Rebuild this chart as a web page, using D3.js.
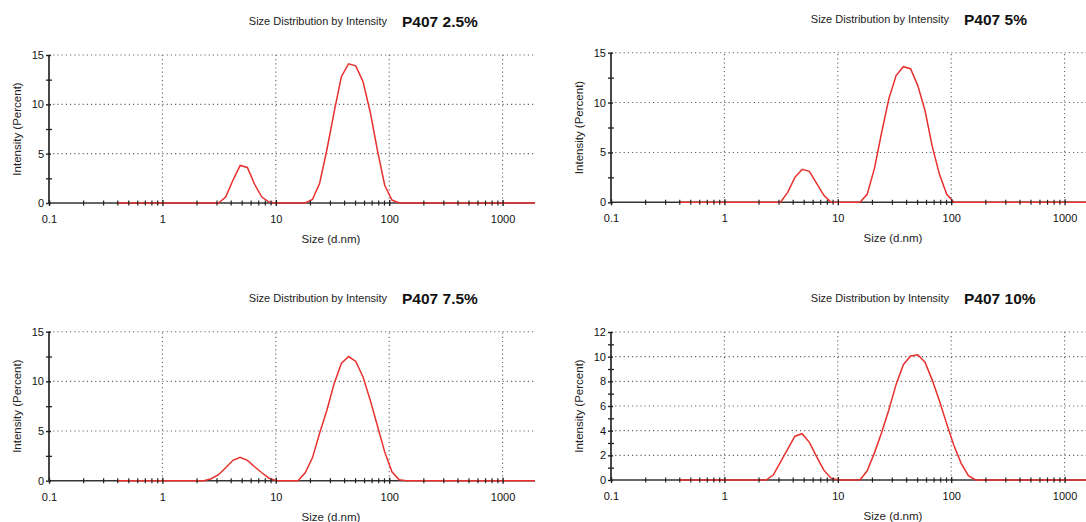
<!DOCTYPE html>
<html>
<head>
<meta charset="utf-8">
<script src="https://cdn.jsdelivr.net/npm/d3@7/dist/d3.min.js"></script>
<style>
  body { margin: 0; background: #fff; }
  svg { display: block; font-family: "Liberation Sans", Arial, sans-serif; }
</style>
</head>
<body>
<svg id="chart" width="1086" height="522"></svg>
<script>
// size classes (d.nm) of the instrument
const sizeBins = [0.4, 0.4632, 0.5365, 0.6213, 0.7195, 0.8332, 0.9649, 1.117, 1.294, 1.499,
  1.736, 2.010, 2.328, 2.696, 3.122, 3.615, 4.187, 4.849, 5.615, 6.503,
  7.531, 8.721, 10.10, 11.70, 13.54, 15.69, 18.17, 21.04, 24.36, 28.21,
  32.67, 37.84, 43.82, 50.75, 58.77, 68.06, 78.82, 91.28, 105.7, 122.4,
  141.8, 164.2, 190.1, 220.2, 255.0, 295.3, 342.0, 396.1, 458.7, 531.2,
  615.1, 712.4, 825.0, 955.4, 1106, 1281, 1484, 1718, 1990, 2305,
  2669, 3091, 3580, 4145, 4801, 5560, 6439, 7456, 8635, 10000];

// intensity (percent) for each sample
const intensityP25 = [0, 0, 0, 0, 0, 0, 0, 0, 0, 0,
  0, 0, 0, 0, 0, 0.6, 2.3, 3.8, 3.6, 1.9,
  0.6, 0.1, 0, 0, 0, 0, 0, 0.35, 2.0, 5.4,
  9.2, 12.8, 14.1, 13.9, 12.3, 9.2, 5.3, 1.8, 0.3, 0,
  0, 0, 0, 0, 0, 0, 0, 0, 0, 0,
  0, 0, 0, 0, 0, 0, 0, 0, 0, 0,
  0, 0, 0, 0, 0, 0, 0, 0, 0, 0];
const intensityP5 = [0, 0, 0, 0, 0, 0, 0, 0, 0, 0,
  0, 0, 0, 0, 0, 1.0, 2.5, 3.3, 3.1, 1.9,
  0.7, 0, 0, 0, 0, 0, 0.8, 3.4, 7.0, 10.4,
  12.7, 13.6, 13.4, 11.7, 9.2, 5.6, 2.8, 0.8, 0, 0,
  0, 0, 0, 0, 0, 0, 0, 0, 0, 0,
  0, 0, 0, 0, 0, 0, 0, 0, 0, 0,
  0, 0, 0, 0, 0, 0, 0, 0, 0, 0];
const intensityP75 = [0, 0, 0, 0, 0, 0, 0, 0, 0, 0,
  0, 0, 0, 0.2, 0.6, 1.3, 2.05, 2.35, 2.05, 1.4,
  0.8, 0.25, 0, 0, 0, 0, 0.8, 2.3, 4.8, 7.1,
  9.75, 11.8, 12.5, 12.0, 10.45, 8.1, 5.5, 2.9, 0.9, 0.1,
  0, 0, 0, 0, 0, 0, 0, 0, 0, 0,
  0, 0, 0, 0, 0, 0, 0, 0, 0, 0,
  0, 0, 0, 0, 0, 0, 0, 0, 0, 0];
const intensityP10 = [0, 0, 0, 0, 0, 0, 0, 0, 0, 0,
  0, 0, 0, 0.4, 1.45, 2.5, 3.55, 3.75, 3.05, 1.9,
  0.8, 0.15, 0, 0, 0, 0, 0.75, 2.2, 3.85, 5.7,
  7.75, 9.35, 10.05, 10.15, 9.55, 8.1, 6.4, 4.55, 2.8, 1.35,
  0.35, 0, 0, 0, 0, 0, 0, 0, 0, 0,
  0, 0, 0, 0, 0, 0, 0, 0, 0, 0,
  0, 0, 0, 0, 0, 0, 0, 0, 0, 0];

const sampleNames = ["P407 2.5%", "P407 5%", "P407 7.5%", "P407 10%"];
const xTickValues = [0.1, 1, 10, 100, 1000];
const xTickLabels = ["0.1", "1", "10", "100", "1000"];
const yTicks15 = [0, 5, 10, 15];
const yMinor15 = [2.5, 7.5, 12.5];
const yTicks12 = [0, 2, 4, 6, 8, 10, 12];
const yMinor12 = [1, 3, 5, 7, 9, 11];

const svg = d3.select("#chart");
const decade = 113.4;

const panels = [
  {name: sampleNames[0], vals: intensityP25, yMax: 15, yt: yTicks15, ym: yMinor15, left: 49, top: 55, bottom: 203, right: 535},
  {name: sampleNames[1], vals: intensityP5, yMax: 15, yt: yTicks15, ym: yMinor15, left: 611, top: 52.7, bottom: 202.3, right: 1100},
  {name: sampleNames[2], vals: intensityP75, yMax: 15, yt: yTicks15, ym: yMinor15, left: 49, top: 331.7, bottom: 480.7, right: 535},
  {name: sampleNames[3], vals: intensityP10, yMax: 12, yt: yTicks12, ym: yMinor12, left: 611, top: 332, bottom: 480, right: 1100}
];

panels.forEach(function(p, i) { drawPanel(p, i); });

function drawPanel(p, i) {
  let x = d3.scaleLog().domain([0.1, 1000]).range([p.left, p.left + 4 * decade]);
  let y = d3.scaleLinear().domain([0, p.yMax]).range([p.bottom, p.top]);
  let xMax = x.invert(p.right);
  let g = svg.append("g");

  // grid
  g.selectAll(".hgrid").data(p.yt.filter(function(d){return d > 0;}))
    .enter().append("line")
    .attr("x1", p.left).attr("x2", p.right)
    .attr("y1", function(d){return y(d);}).attr("y2", function(d){return y(d);})
    .attr("stroke", "#666").attr("stroke-width", 1.1)
    .attr("stroke-dasharray", "1.2,3");
  g.selectAll(".vgrid").data(xTickValues.slice(1))
    .enter().append("line")
    .attr("x1", function(d){return x(d);}).attr("x2", function(d){return x(d);})
    .attr("y1", p.bottom).attr("y2", p.top)
    .attr("stroke", "#666").attr("stroke-width", 1.1)
    .attr("stroke-dasharray", "1.2,3");

  // axes lines
  g.append("line").attr("x1", p.left).attr("x2", p.right)
    .attr("y1", p.bottom).attr("y2", p.bottom)
    .attr("stroke", "#333").attr("stroke-width", 1.6);
  g.append("line").attr("x1", p.left).attr("x2", p.left)
    .attr("y1", p.bottom).attr("y2", p.top)
    .attr("stroke", "#333").attr("stroke-width", 1.8);

  // data line
  let clipId = "clip" + i;
  svg.append("clipPath").attr("id", clipId).append("rect")
    .attr("x", p.left).attr("y", p.top - 10)
    .attr("width", p.right - p.left).attr("height", p.bottom - p.top + 20);
  let line = d3.line()
    .x(function(d){return x(d[0]);})
    .y(function(d){return y(d[1]);});
  g.append("path")
    .datum(d3.zip(sizeBins, p.vals))
    .attr("clip-path", "url(#" + clipId + ")")
    .attr("d", line)
    .attr("fill", "none")
    .attr("stroke", "#e8302e")
    .attr("stroke-width", 1.5);

  // x axis ticks
  let xAll = x.copy().domain([0.1, xMax]);
  let minor = xAll.ticks().filter(function(d){return xTickValues.indexOf(d) < 0;});
  let xMinorAxis = g.append("g").attr("transform", "translate(0," + p.bottom + ")")
    .call(d3.axisBottom(x).tickValues(minor).tickSize(0).tickFormat(""));
  xMinorAxis.select(".domain").remove();
  xMinorAxis.selectAll(".tick line").attr("y1", -2.5).attr("y2", 2.5)
    .attr("stroke", "#222").attr("stroke-width", 1.2);

  let xAxis = g.append("g").attr("transform", "translate(0," + p.bottom + ")")
    .call(d3.axisBottom(x).tickValues(xTickValues)
      .tickFormat(function(d, k){return xTickLabels[k];}));
  xAxis.select(".domain").remove();
  xAxis.selectAll(".tick line").attr("y1", -3).attr("y2", 3)
    .attr("stroke", "#222").attr("stroke-width", 1.4);
  xAxis.selectAll(".tick text").attr("y", 20).attr("dy", 0)
    .attr("font-size", 11).attr("fill", "#111");

  // y axis ticks
  let yMinorAxis = g.append("g").attr("transform", "translate(" + p.left + ",0)")
    .call(d3.axisLeft(y).tickValues(p.ym).tickSize(0).tickFormat(""));
  yMinorAxis.select(".domain").remove();
  yMinorAxis.selectAll(".tick line").attr("x1", -3).attr("x2", 3)
    .attr("stroke", "#222").attr("stroke-width", 1.3);

  let yAxis = g.append("g").attr("transform", "translate(" + p.left + ",0)")
    .call(d3.axisLeft(y).tickValues(p.yt).tickFormat(d3.format("d")));
  yAxis.select(".domain").remove();
  yAxis.selectAll(".tick line").attr("x1", -3).attr("x2", 2)
    .attr("stroke", "#222").attr("stroke-width", 1.4);
  yAxis.selectAll(".tick text").attr("x", -5)
    .attr("font-size", 11).attr("fill", "#111");

  // labels
  g.append("text")
    .attr("x", p.left + 282).attr("y", p.bottom + 40)
    .attr("text-anchor", "middle").attr("font-size", 11.5).attr("fill", "#222")
    .text("Size (d.nm)");
  g.append("text")
    .attr("transform", "translate(" + (p.left - 28) + "," + ((p.top + p.bottom) / 2) + ") rotate(-90)")
    .attr("text-anchor", "middle").attr("font-size", 11.5).attr("fill", "#222")
    .text("Intensity (Percent)");

  g.append("text")
    .attr("x", p.left + 338).attr("y", p.top - 30)
    .attr("text-anchor", "end").attr("font-size", 11).attr("fill", "#222")
    .text("Size Distribution by Intensity");
  g.append("text")
    .attr("x", p.left + 353).attr("y", p.top - 28)
    .attr("font-size", 15.5).attr("font-weight", "bold").attr("fill", "#111")
    .text(p.name);
}
</script>
</body>
</html>
